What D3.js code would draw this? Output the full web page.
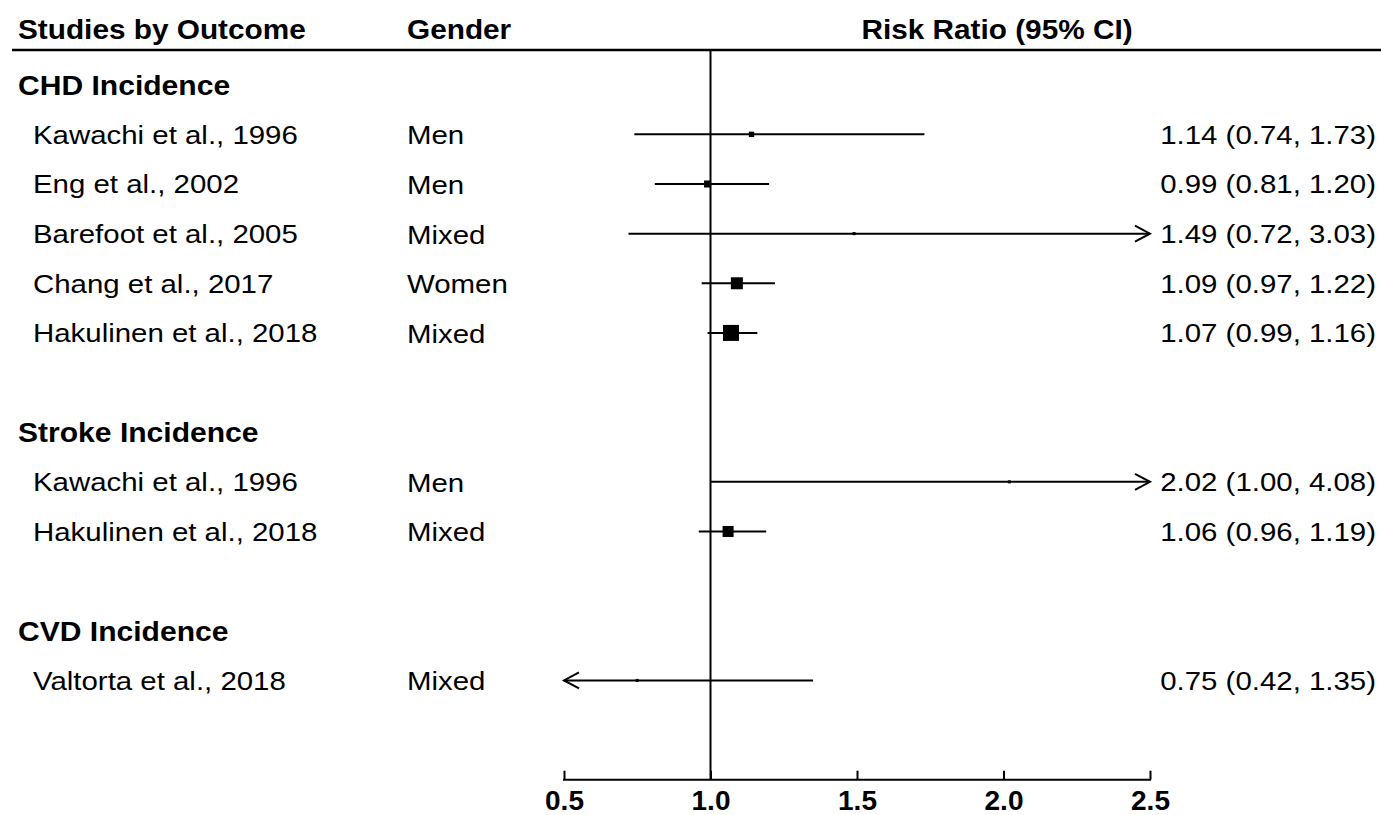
<!DOCTYPE html>
<html>
<head>
<meta charset="utf-8">
<script src="https://cdn.jsdelivr.net/npm/d3@7"></script>
<style>
  html, body { margin: 0; padding: 0; background: #fff; }
  svg { display: block; }
</style>
</head>
<body>
<div id="chart"></div>
<script>
// Outcome groups and the studies in each
const GROUPS = ["CHD Incidence", "Stroke Incidence", "CVD Incidence"]
const STUDY_GROUP = [0, 0, 0, 0, 0, 1, 1, 2]
const STUDY_NAMES = [
  "Kawachi et al., 1996",
  "Eng et al., 2002",
  "Barefoot et al., 2005",
  "Chang et al., 2017",
  "Hakulinen et al., 2018",
  "Kawachi et al., 1996",
  "Hakulinen et al., 2018",
  "Valtorta et al., 2018"
]
const STUDY_GENDER = ["Men", "Men", "Mixed", "Women", "Mixed", "Men", "Mixed", "Mixed"]
const RR = [1.14, 0.99, 1.49, 1.09, 1.07, 2.02, 1.06, 0.75]
const CI_LOW = [0.74, 0.81, 0.72, 0.97, 0.99, 1.00, 0.96, 0.42]
const CI_HIGH = [1.73, 1.20, 3.03, 1.22, 1.16, 4.08, 1.19, 1.35]
// study weights (box area)
const WEIGHTS = [2.8, 4.8, 0.9, 14.0, 25.0, 0.9, 11.8, 0.9]
const X_TICKS = [0.5, 1.0, 1.5, 2.0, 2.5]

const width = 1381
const height = 815
const FONT = "'Liberation Sans', Arial, Helvetica, sans-serif"
const STRETCH = 1.11      // body text in the source is a little wide
const BOLD_STRETCH = 1.045

const svg = d3.select("#chart").append("svg")
  .attr("width", width)
  .attr("height", height)
  .attr("viewBox", `0 0 ${width} ${height}`)
  .style("font-family", FONT)

// Build rows: group header, its studies, then a blank spacer row
const rows = []
GROUPS.forEach((g, gi) => {
  rows.push({ type: "group", label: g })
  STUDY_NAMES.forEach((name, i) => {
    if (STUDY_GROUP[i] === gi) rows.push({ type: "study", i: i })
  })
  rows.push({ type: "blank" })
})
rows.forEach((r, k) => { r.k = k })
const axisRow = rows.length

const x = d3.scaleLinear().domain([0.5, 2.5]).range([564, 1150])
const y = d3.scaleLinear().domain([0, axisRow]).range([84.7, 779.7])
const box = d3.scaleSqrt().domain([0, d3.max(WEIGHTS)]).range([0, 16])
const fmt = d3.format(".2f")
const [xMin, xMax] = x.domain()

// Text with a horizontal stretch around its anchor
function stretchedText(parent, xPos, yPos, anchor, size, weight, sx, txt) {
  return parent.append("text")
    .attr("transform", `translate(${xPos},${yPos}) scale(${sx},1)`)
    .attr("text-anchor", anchor)
    .attr("font-size", size)
    .attr("font-weight", weight)
    .attr("fill", "#000")
    .text(txt)
}

// Header
const head = svg.append("g")
stretchedText(head, 18, 39, "start", 28.5, "bold", BOLD_STRETCH, "Studies by Outcome")
stretchedText(head, 407, 39, "start", 28.5, "bold", BOLD_STRETCH, "Gender")
stretchedText(head, 997, 39, "middle", 28.5, "bold", BOLD_STRETCH, "Risk Ratio (95% CI)")

svg.append("line")
  .attr("x1", 12).attr("x2", width)
  .attr("y1", 50).attr("y2", 50)
  .attr("stroke", "#000")
  .attr("stroke-width", 2.5)

// Reference line at RR = 1
svg.append("line")
  .attr("x1", x(1)).attr("x2", x(1))
  .attr("y1", 50).attr("y2", y(axisRow))
  .attr("stroke", "#000")
  .attr("stroke-width", 2)

// Group headings
const groupG = svg.append("g")
rows.filter(r => r.type === "group").forEach(r => {
  stretchedText(groupG, 18, y(r.k) + 10, "start", 28.5, "bold", 1.055, r.label)
})

const studyRows = rows.filter(r => r.type === "study")

const study = svg.append("g")
  .selectAll("g")
  .data(studyRows)
  .enter().append("g")

study.each(function(d) {
  const g = d3.select(this)
  const yy = y(d.k) + 9.5
  stretchedText(g, 33, yy, "start", 26.5, "normal", STRETCH, STUDY_NAMES[d.i])
  stretchedText(g, 407, yy + 0.5, "start", 26.5, "normal", STRETCH, STUDY_GENDER[d.i])
  stretchedText(g, 1376, yy, "end", 26.5, "normal", STRETCH,
    `${fmt(RR[d.i])} (${fmt(CI_LOW[d.i])}, ${fmt(CI_HIGH[d.i])})`)
})

// CI lines, clipped to the axis range
study.append("line")
  .attr("x1", d => x(Math.max(CI_LOW[d.i], xMin)))
  .attr("x2", d => x(Math.min(CI_HIGH[d.i], xMax)))
  .attr("y1", d => y(d.k))
  .attr("y2", d => y(d.k))
  .attr("stroke", "#000")
  .attr("stroke-width", 2)

// Open arrowheads where the CI runs off the scale
const arrow = (tipX, dir, yy) =>
  `M${tipX - dir * 15},${yy - 8} L${tipX},${yy} L${tipX - dir * 15},${yy + 8}`

study.filter(d => CI_HIGH[d.i] > xMax)
  .append("path")
  .attr("d", d => arrow(x(xMax), 1, y(d.k)))
  .attr("fill", "none")
  .attr("stroke", "#000")
  .attr("stroke-width", 2)

study.filter(d => CI_LOW[d.i] < xMin)
  .append("path")
  .attr("d", d => arrow(x(xMin), -1, y(d.k)))
  .attr("fill", "none")
  .attr("stroke", "#000")
  .attr("stroke-width", 2)

// Point estimate boxes sized by weight
const side = d => Math.max(box(WEIGHTS[d.i]), 3)
study.append("rect")
  .attr("x", d => x(RR[d.i]) - side(d) / 2)
  .attr("y", d => y(d.k) - side(d) / 2)
  .attr("width", side)
  .attr("height", side)
  .attr("fill", "#000")

// Bottom axis with inward ticks
const axis = svg.append("g")
  .attr("transform", `translate(0,${y(axisRow)})`)
  .call(d3.axisTop(x).tickValues(X_TICKS).tickSize(9).tickFormat(""))
axis.select(".domain").remove()
axis.selectAll(".tick line").attr("stroke", "#000").attr("stroke-width", 2)
axis.append("line")
  .attr("x1", x(xMin) - 1).attr("x2", x(xMax) + 1)
  .attr("stroke", "#000")
  .attr("stroke-width", 2)

axis.selectAll(".tick")
  .append("text")
  .attr("y", 30)
  .attr("text-anchor", "middle")
  .attr("fill", "#000")
  .attr("font-size", 28)
  .attr("font-weight", "bold")
  .attr("font-family", FONT)
  .text(d => d3.format(".1f")(d))
</script>
</body>
</html>
